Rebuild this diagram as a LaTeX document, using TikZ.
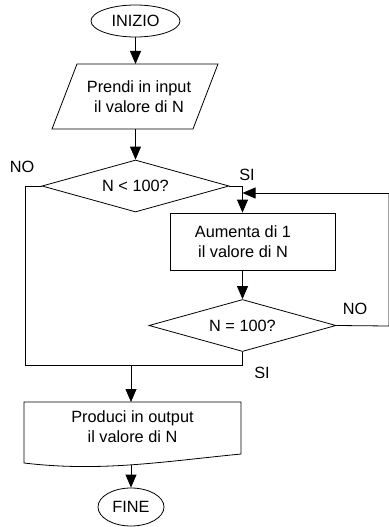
\documentclass[tikz,border=0pt]{standalone}
\usepackage{fontspec}
\setmainfont{Liberation Sans}
\usetikzlibrary{arrows.meta,shapes.geometric}
\begin{document}
\begin{tikzpicture}[x=1pt,y=-1pt,
  line width=0.8pt,
  every node/.style={font=\fontsize{16.3}{20}\selectfont, align=center, inner sep=0pt},
  term/.style={ellipse, draw},
  dec/.style={diamond, draw, aspect=3.5, minimum width=187pt, minimum height=52pt},
  procbox/.style={rectangle, draw, minimum width=165pt, minimum height=57pt},
  arr/.style={-{Triangle[width=11pt,length=13pt]}}]
\useasboundingbox (0,0) rectangle (388,527);

% terminals
\node[term, minimum width=89pt, minimum height=32pt] (inizio) at (135.5,21) {INIZIO};
\node[term, minimum width=66pt, minimum height=38pt] (fine) at (131,507) {FINE};

% input parallelogram
\node (inp) at (139,97) {Prendi in input\\il valore di N};
\draw (77,64) -- (218,64) -- (193,129) -- (52,129) -- cycle;
\coordinate (inptop) at (135.5,64);
\coordinate (inpbot) at (135.5,129);

% decisions
\node[dec] (d1) at (135.5,186) {N < 100?};
\node[dec] (d2) at (242.5,325.5) {N = 100?};

% process
\node[procbox] (aumbox) at (252.5,241.5) {};
\node (aum) at (243,241.5) {Aumenta di 1\\il valore di N};

% output document
\node (out) at (132.5,427) {Produci in output\\il valore di N};
\draw (24,402) -- (241,402) -- (241,454) .. controls (160,462) and (100,472) .. (24,463) -- cycle;
\coordinate (outtop) at (131,402);
\coordinate (outbot) at (131,465);

% routing points
\coordinate (j1) at (242.5,186);
\coordinate (j2) at (242.5,193);
\coordinate (r1) at (389,326);
\coordinate (r2) at (389,193);
\coordinate (l1) at (25,186);
\coordinate (l2) at (25,365);
\coordinate (b1) at (242.5,365);
\coordinate (m1) at (131,365);

% connectors
\draw[arr] (inizio) -- (inptop);
\draw[arr] (inpbot) -- (d1);
\draw (d1.east) -- (j1);
\draw[arr] (j1) -- (aumbox.north -| j1);
\draw[arr] (aumbox.south -| j1) -- (d2);
\draw (d2.east) -- (r1) -- (r2);
\draw[arr] (r2) -- (j2);
\draw (d1.west) -- (l1) -- (l2) -- (b1) -- (d2.south);
\draw[arr] (m1) -- (outtop);
\draw[arr] (outbot) -- (fine);

% labels
\node (no1) at (22,167) {NO};
\node (si1) at (247,175) {SI};
\node (no2) at (355,309) {NO};
\node (si2) at (262,373) {SI};
\end{tikzpicture}
\end{document}
